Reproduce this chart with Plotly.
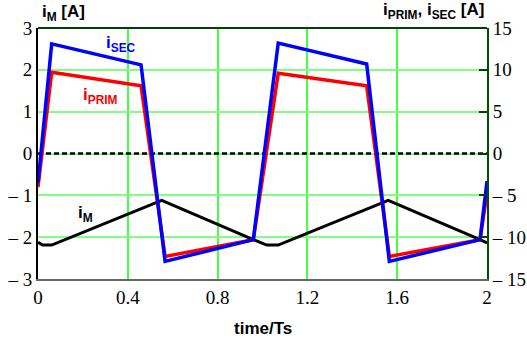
import plotly.graph_objects as go

# time axis (normalized to switching period)
t_sec = [0, 0.061, 0.459, 0.566, 0.959, 1.07, 1.464, 1.565, 1.969, 2.0]
i_sec = [-3.5, 13.1, 10.6, -12.9, -10.3, 13.2, 10.7, -12.9, -10.3, -3.3]

t_prim = [0, 0.061, 0.459, 0.566, 0.959, 1.07, 1.464, 1.565, 1.969, 2.0]
i_prim = [-4.0, 9.7, 8.1, -12.3, -10.3, 9.6, 8.1, -12.3, -10.3, -4.7]

t_m = [0, 0.02, 0.061, 0.551, 0.959, 1.019, 1.07, 1.56, 1.969, 2.0]
i_m = [-2.12, -2.19, -2.19, -1.12, -2.06, -2.19, -2.19, -1.12, -2.06, -2.14]

zero_x = [0, 2]
zero_y = [0, 0]

x_ticks = [0, 0.4, 0.8, 1.2, 1.6, 2]
x_ticktext = ["0", "0.4", "0.8", "1.2", "1.6", "2"]
yl_ticks = [-3, -2, -1, 0, 1, 2, 3]
yl_ticktext = ["\u2013 3", "\u2013 2", "\u2013 1", "0", "1", "2", "3"]
yr_ticks = [-15, -10, -5, 0, 5, 10, 15]
yr_ticktext = ["\u2013 15", "\u2013 10", "\u2013 5", "0", "5", "10", "15"]

SERIF = "Liberation Serif, Times New Roman, serif"
SANS = "Liberation Sans, Arial, sans-serif"

fig = go.Figure()
fig.add_trace(go.Scatter(x=zero_x, y=zero_y, mode="lines", yaxis="y",
                         line=dict(color="black", width=2.5, dash="5px,3px"), showlegend=False))
fig.add_trace(go.Scatter(x=t_m, y=i_m, mode="lines", yaxis="y",
                         line=dict(color="black", width=3), showlegend=False))
fig.add_trace(go.Scatter(x=t_prim, y=i_prim, mode="lines", yaxis="y2",
                         line=dict(color="#ff0000", width=3.5), showlegend=False))
fig.add_trace(go.Scatter(x=t_sec, y=i_sec, mode="lines", yaxis="y2",
                         line=dict(color="#0000ff", width=3.5), showlegend=False))

fig.update_layout(
    width=527, height=349,
    margin=dict(l=38, r=40, t=28, b=70, autoexpand=False),
    plot_bgcolor="white", paper_bgcolor="white",
    xaxis=dict(range=[0, 2], tickvals=x_ticks, ticktext=x_ticktext, automargin=False,
               showgrid=True, gridcolor="#44ff44", gridwidth=1.6,
               zeroline=False, showline=True, linecolor="#666666", linewidth=2,
               ticks="", tickfont=dict(family=SERIF, size=19, color="black")),
    yaxis=dict(range=[-3, 3], tickvals=yl_ticks, ticktext=yl_ticktext, automargin=False,
               showgrid=True, gridcolor="#80ff80", gridwidth=2,
               zeroline=False, showline=True, linecolor="black", linewidth=2,
               ticks="", tickfont=dict(family=SERIF, size=19, color="black")),
    yaxis2=dict(range=[-15, 15], tickvals=yr_ticks, ticktext=yr_ticktext, automargin=False,
                overlaying="y", side="right", showgrid=False, zeroline=False,
                showline=True, linecolor="#005000", linewidth=2,
                ticks="inside", ticklen=8, tickwidth=2, tickcolor="#004000",
                tickfont=dict(family=SERIF, size=19, color="black")),
    shapes=[dict(type="line", xref="paper", yref="paper", x0=0, x1=1, y0=1, y1=1,
                 line=dict(color="#004000", width=2))],
    annotations=[
        dict(text="<b>i<sub>M</sub> [A]</b>", xref="paper", yref="paper",
             x=0.056, y=1.058, xanchor="center", yanchor="middle", showarrow=False,
             font=dict(family=SANS, size=17, color="black")),
        dict(text="<b>i<sub>PRIM</sub>, i<sub>SEC</sub> [A]</b>", xref="paper", yref="paper",
             x=0.998, y=1.066, xanchor="right", yanchor="middle", showarrow=False,
             font=dict(family=SANS, size=17, color="black")),
        dict(text="<b>time/Ts</b>", xref="paper", yref="paper",
             x=0.5, y=-0.199, xanchor="center", yanchor="middle", showarrow=False,
             font=dict(family=SANS, size=17, color="black")),
        dict(text="<b>i<sub>SEC</sub></b>", xref="paper", yref="paper",
             x=(121 - 38) / 449, y=(279 - 44) / 251, xanchor="center", yanchor="middle",
             showarrow=False, font=dict(family=SANS, size=17, color="#0000ff")),
        dict(text="<b>i<sub>PRIM</sub></b>", xref="paper", yref="paper",
             x=(100 - 38) / 449, y=(279 - 96) / 251, xanchor="center", yanchor="middle",
             showarrow=False, font=dict(family=SANS, size=17, color="#ff0000")),
        dict(text="<b>i<sub>M</sub></b>", xref="paper", yref="paper",
             x=(85 - 38) / 449, y=(279 - 214) / 251, xanchor="center", yanchor="middle",
             showarrow=False, font=dict(family=SANS, size=17, color="black")),
    ],
)

fig.write_html("out.html")
